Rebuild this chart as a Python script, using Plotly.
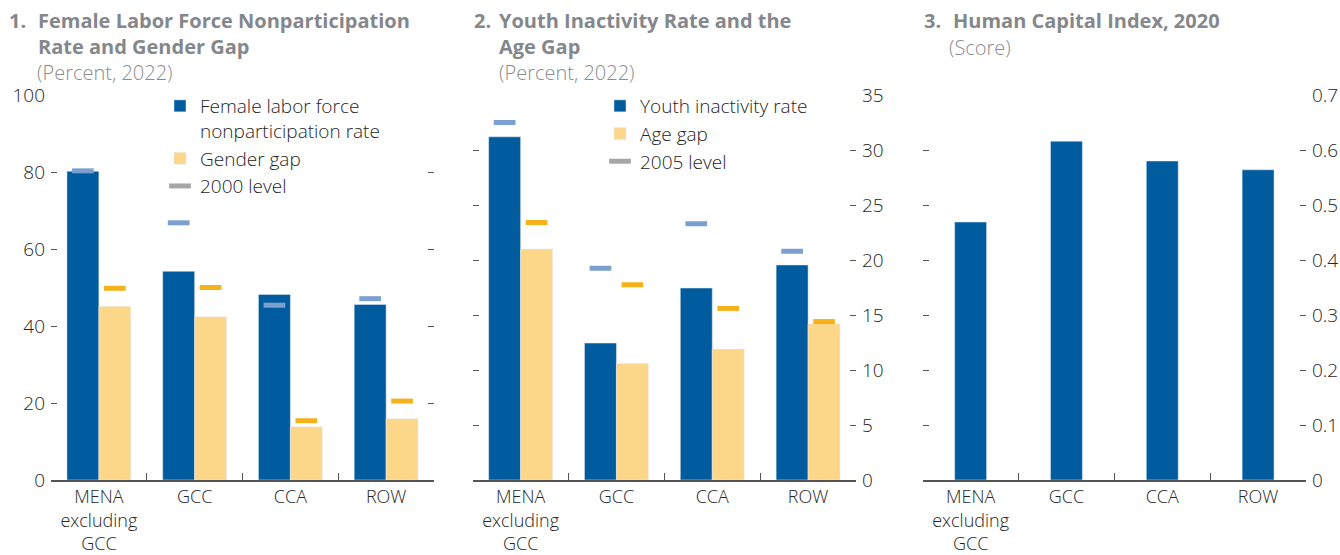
import plotly.graph_objects as go

# ---------------- data ----------------
categories = ["MENA<br>excluding<br>GCC", "GCC", "CCA", "ROW"]

female_nonpart = [80.2, 54.2, 48.2, 45.6]
gender_gap = [45.1, 42.4, 13.8, 15.9]
female_nonpart_2000 = [80.3, 66.8, 45.4, 47.1]
gender_gap_2000 = [49.8, 50.0, 15.4, 20.5]

youth_inactivity = [31.2, 12.45, 17.45, 19.55]
age_gap = [21.0, 10.6, 11.9, 14.2]
youth_inactivity_2005 = [32.5, 19.25, 23.3, 20.8]
age_gap_2005 = [23.4, 17.75, 15.6, 14.4]

hci_2020 = [0.469, 0.616, 0.580, 0.564]

ticks1 = [0, 20, 40, 60, 80, 100]
ticks2 = [0, 5, 10, 15, 20, 25, 30, 35]
ticks3 = [0, 0.1, 0.2, 0.3, 0.4, 0.5, 0.6, 0.7]
ticks3_text = ["0", "0.1", "0.2", "0.3", "0.4", "0.5", "0.6", "0.7"]

# ---------------- style ----------------
W, H = 1340, 555
BLUE = "#005C9E"
YELLOW = "#FCD78A"
LIGHTBLUE = "#7B9FCF"
ORANGE = "#F6B21B"
GREY = "#A6A6A6"
TXT = "#262626"
TITLE = "#84878B"
SUB = "#8A8C90"
FONT = "Open Sans"
MK = 15.5  # line-ew marker size (length = 1.4 * size)


def fx(px):
    return px / W


def fy(py):
    return 1 - py / H


def level_marker(color):
    return dict(symbol="line-ew", size=MK, line=dict(width=5, color=color))


fig = go.Figure()

# Panel 1
fig.add_trace(go.Bar(x=categories, y=female_nonpart, name="Female labor force<br>nonparticipation rate",
                     marker_color=BLUE, offsetgroup="a", xaxis="x", yaxis="y", legend="legend"))
fig.add_trace(go.Bar(x=categories, y=gender_gap, name="Gender gap",
                     marker_color=YELLOW, offsetgroup="b", xaxis="x", yaxis="y", legend="legend"))
fig.add_trace(go.Scatter(x=categories, y=female_nonpart_2000, mode="markers", showlegend=False,
                         marker=level_marker(LIGHTBLUE), offsetgroup="a", xaxis="x", yaxis="y"))
fig.add_trace(go.Scatter(x=categories, y=gender_gap_2000, mode="markers", showlegend=False,
                         marker=level_marker(ORANGE), offsetgroup="b", xaxis="x", yaxis="y"))
fig.add_trace(go.Scatter(x=[None], y=[None], mode="markers", name="2000 level",
                         marker=level_marker(GREY), offsetgroup="a", xaxis="x", yaxis="y", legend="legend"))

# Panel 2
fig.add_trace(go.Bar(x=categories, y=youth_inactivity, name="Youth inactivity rate",
                     marker_color=BLUE, offsetgroup="a", xaxis="x2", yaxis="y2", legend="legend2"))
fig.add_trace(go.Bar(x=categories, y=age_gap, name="Age gap",
                     marker_color=YELLOW, offsetgroup="b", xaxis="x2", yaxis="y2", legend="legend2"))
fig.add_trace(go.Scatter(x=categories, y=youth_inactivity_2005, mode="markers", showlegend=False,
                         marker=level_marker(LIGHTBLUE), offsetgroup="a", xaxis="x2", yaxis="y2"))
fig.add_trace(go.Scatter(x=categories, y=age_gap_2005, mode="markers", showlegend=False,
                         marker=level_marker(ORANGE), offsetgroup="b", xaxis="x2", yaxis="y2"))
fig.add_trace(go.Scatter(x=[None], y=[None], mode="markers", name="2005 level",
                         marker=level_marker(GREY), offsetgroup="a", xaxis="x2", yaxis="y2", legend="legend2"))

# Panel 3
fig.add_trace(go.Bar(x=categories, y=hci_2020, name="Human Capital Index", width=0.333,
                     marker_color=BLUE, showlegend=False, xaxis="x3", yaxis="y3"))

ydom = [75 / H, 460 / H]
xdoms = [[fx(51), fx(434)], [fx(472.7), fx(856)], [fx(922.7), fx(1306)]]

common_x = dict(type="category", showline=True, linecolor="#555555", linewidth=1.5,
                ticks="inside", tickson="boundaries", ticklen=7, tickcolor="#555555", tickwidth=1.2,
                showgrid=False, zeroline=False,
                tickfont=dict(family=FONT, size=18, color=TXT, weight=300),
                fixedrange=True, automargin=False, ticklabelstandoff=0)
common_y = dict(showline=False, showgrid=False, zeroline=False, ticks="inside", ticklen=6,
                tickcolor="#555555", tickwidth=1.2, mirror="ticks", automargin=False, fixedrange=True,
                tickfont=dict(family=FONT, size=19, color=TXT, weight=300), domain=ydom, ticklabelstandoff=5)

legend_common = dict(xanchor="left", yanchor="top", valign="top", bgcolor="rgba(0,0,0,0)",
                     font=dict(family=FONT, size=19, color=TXT, weight=300), tracegroupgap=0, itemwidth=30)

layout = dict(
    width=W, height=H, margin=dict(l=0, r=0, t=0, b=0, autoexpand=False),
    paper_bgcolor="white", plot_bgcolor="white",
    barmode="group", bargap=0.333, bargroupgap=0,
    scattermode="group", scattergap=0.333,
    font=dict(family=FONT, size=18, color=TXT),
    xaxis=dict(domain=xdoms[0], anchor="y", **common_x),
    xaxis2=dict(domain=xdoms[1], anchor="y2", **common_x),
    xaxis3=dict(domain=xdoms[2], anchor="y3", **common_x),
    yaxis=dict(anchor="x", range=[0, 100], tickvals=ticks1, side="left", **common_y),
    yaxis2=dict(anchor="x2", range=[0, 35], tickvals=ticks2, side="right", **common_y),
    yaxis3=dict(anchor="x3", range=[0, 0.7], tickvals=ticks3, ticktext=ticks3_text, side="right", **common_y),
    legend=dict(x=fx(160), y=fy(87), **legend_common),
    legend2=dict(x=fx(600), y=fy(87), **legend_common),
    showlegend=True,
)
fig.update_layout(**layout)

annos = [
    ("<b>1.</b>", 7, 5, 20, TITLE, 700),
    ("<b>Female Labor Force Nonparticipation<br>Rate and Gender Gap</b>", 36, 5, 20, TITLE, 700),
    ("(Percent, 2022)", 35, 57, 20, SUB, 300),
    ("<b>2.</b>", 472, 5, 20, TITLE, 700),
    ("<b>Youth Inactivity Rate and the<br>Age Gap</b>", 497, 5, 20, TITLE, 700),
    ("(Percent, 2022)", 497, 57, 20, SUB, 300),
    ("<b>3.</b>", 922, 5, 20, TITLE, 700),
    ("<b>Human Capital Index, 2020</b>", 951, 5, 20, TITLE, 700),
    ("(Score)", 947, 32, 20, SUB, 300),
]
for text, x, y, size, color, weight in annos:
    fig.add_annotation(text=text, x=fx(x), y=fy(y), xref="paper", yref="paper",
                       xanchor="left", yanchor="top", align="left", showarrow=False,
                       font=dict(family=FONT, size=size, color=color, weight=weight))

fig.write_html("out.html", config={"displayModeBar": False},
               post_script="document.body.style.margin='0px';")
